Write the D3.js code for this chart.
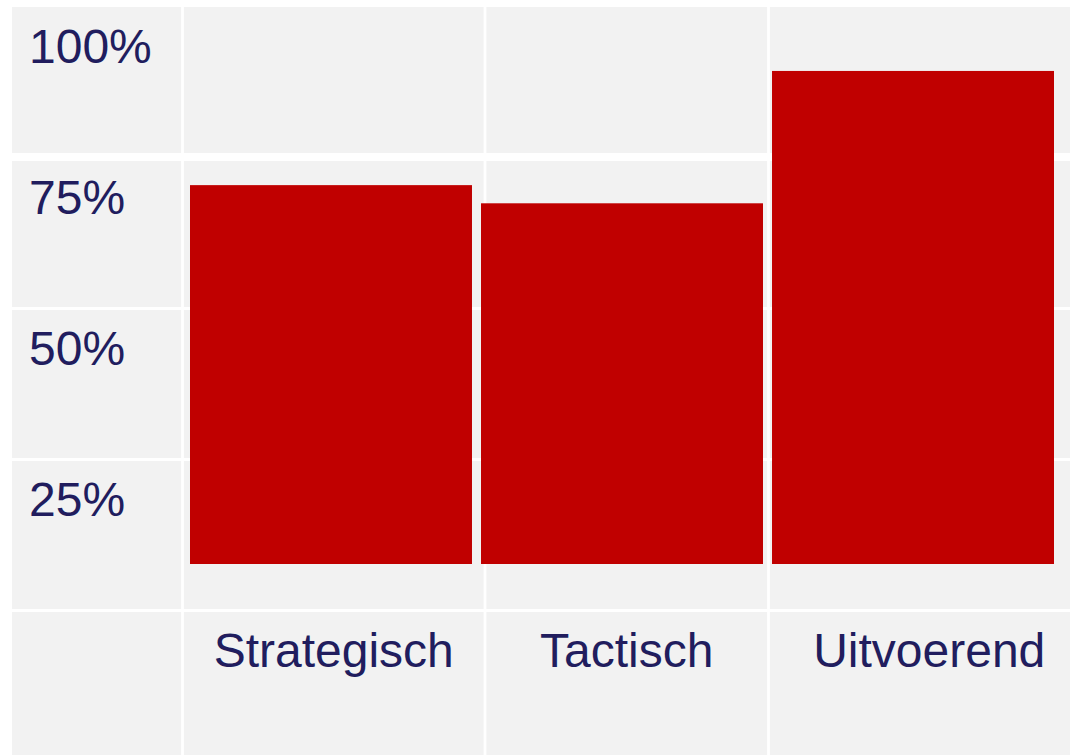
<!DOCTYPE html>
<meta charset="utf-8">
<html>
<head>
  <title>Niveau</title>
  <script src="https://d3js.org/d3.v7.min.js"></script>
  <style>
    body { margin: 0; background-color: #ffffff; }
    svg { display: block; }
    text { font-family: 'Liberation Sans', Arial, sans-serif; fill: #211d5e; }
  </style>
</head>
<body>
<script>

  // data
  var categories = ["Strategisch", "Tactisch", "Uitvoerend"];
  var values = [0.73, 0.695, 0.95];
  var yLabels = ["100%", "75%", "50%", "25%"];

  var width = 1070, height = 755;

  // table layout (label column + one column per category)
  var colEdges = [12, 182.5, 485, 768.5, 1090];

  var canvas = d3.select("body").append("svg")
      .attr("width", width)
      .attr("height", height);

  // rows of the table: four label rows + the category row
  var rows = d3.scaleBand()
      .domain(d3.range(yLabels.length + 1))
      .range([6, 761]);

  // bars sit on top of the table
  var x = d3.scaleBand()
      .domain(categories)
      .range([190, 1054])
      .paddingInner(0.031)
      .paddingOuter(0);

  var y = d3.scaleLinear()
      .domain([0, 1])
      .range([564, 45]);

  //grey table background
  canvas.append("rect")
      .attr("x", colEdges[0])
      .attr("y", 7)
      .attr("width", width - colEdges[0])
      .attr("height", height - 7)
      .attr("fill", "#f2f2f2");

  //white row lines, the first one is thicker
  canvas.selectAll(".row-line")
      .data(d3.range(1, yLabels.length + 1))
      .enter()
        .append("line")
        .attr("class", "row-line")
        .attr("x1", colEdges[0])
        .attr("x2", width)
        .attr("y1", function (d) { return rows(d) + (d === 1 ? 0 : 0.5); })
        .attr("y2", function (d) { return rows(d) + (d === 1 ? 0 : 0.5); })
        .attr("stroke", "#ffffff")
        .attr("stroke-width", function (d) { return d === 1 ? 8 : 3; });

  //white column lines
  canvas.selectAll(".col-line")
      .data(colEdges.slice(1, 4))
      .enter()
        .append("line")
        .attr("class", "col-line")
        .attr("x1", function (d) { return d; })
        .attr("x2", function (d) { return d; })
        .attr("y1", 7)
        .attr("y2", height)
        .attr("stroke", "#ffffff")
        .attr("stroke-width", 2.8);

  //bars
  canvas.selectAll(".bar")
      .data(values)
      .enter()
        .append("rect")
        .attr("class", "bar")
        .attr("x", function (d, i) { return x(categories[i]); })
        .attr("width", x.bandwidth())
        .attr("y", function (d) { return y(d); })
        .attr("height", function (d) { return y(0) - y(d); })
        .attr("fill", "#c00000");

  //percentage labels in the first column
  canvas.selectAll(".y-label")
      .data(yLabels)
      .enter()
        .append("text")
        .attr("class", "y-label")
        .attr("x", 29)
        .attr("y", function (d, i) { return rows(i) + 57; })
        .attr("font-size", 48)
        .text(function (d) { return d; });

  //category labels in the bottom row
  canvas.selectAll(".x-label")
      .data(categories)
      .enter()
        .append("text")
        .attr("class", "x-label")
        .attr("x", function (d, i) { return (colEdges[i + 1] + colEdges[i + 2]) / 2; })
        .attr("y", rows(yLabels.length) + 57)
        .attr("text-anchor", "middle")
        .attr("font-size", 48)
        .text(function (d) { return d; });

</script>
</body>
</html>
